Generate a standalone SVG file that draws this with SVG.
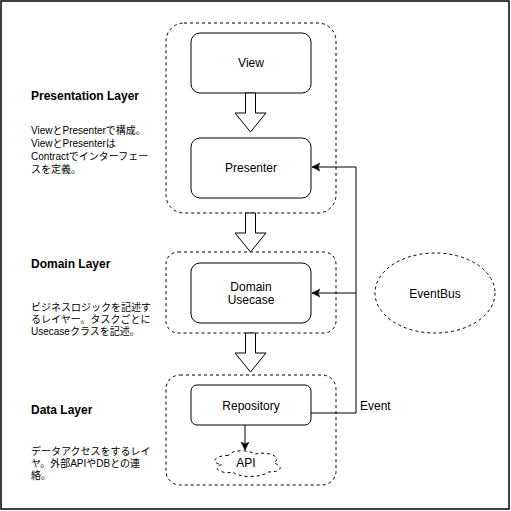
<svg xmlns="http://www.w3.org/2000/svg" width="511" height="511" viewBox="0 0 511 511">
<defs>
<style>
.frame{fill:#fff;stroke:#000;stroke-width:1.5}
.cont{fill:none;stroke:#000;stroke-width:1;stroke-dasharray:3 3}
.node{fill:#fff;stroke:#000;stroke-width:1}
.blk{fill:#fff;stroke:#000;stroke-width:1}
.lbl{font-family:"Liberation Sans",Arial,sans-serif;font-size:12px;fill:#000;text-anchor:middle}
.ttl{font-family:"Liberation Sans",Arial,sans-serif;font-size:12px;font-weight:bold;fill:#000}
.body{font-family:"Liberation Sans","Noto Sans CJK JP",sans-serif;font-size:10px;fill:#000}
.edge{fill:none;stroke:#000;stroke-width:1}
</style>
<marker id="arr" markerWidth="10" markerHeight="10" refX="8" refY="5" orient="auto" markerUnits="userSpaceOnUse">
<path d="M0,1 L8,5 L0,9 L2,5 Z" fill="#000" stroke="#000" stroke-width="0.5"/>
</marker>
</defs>
<rect class="frame" x="1" y="1" width="508" height="508"/>

<g id="presentation-layer">
<rect class="cont" x="166" y="23" width="170" height="190" rx="18"/>
</g>
<g id="domain-layer">
<rect class="cont" x="166" y="252" width="170" height="81" rx="12"/>
</g>
<g id="data-layer">
<rect class="cont" x="166" y="375" width="170" height="110" rx="14"/>
</g>

<g id="view">
<rect class="node" x="191" y="33" width="120" height="60" rx="9"/>
<text class="lbl" x="251" y="67">View</text>
</g>
<g id="presenter">
<rect class="node" x="191" y="138" width="120" height="60" rx="9"/>
<text class="lbl" x="251" y="172">Presenter</text>
</g>
<g id="domain-usecase">
<rect class="node" x="191" y="263" width="120" height="60" rx="9"/>
<text class="lbl" x="251" y="291">Domain</text>
<text class="lbl" x="251" y="304">Usecase</text>
</g>
<g id="repository">
<rect class="node" x="191" y="385" width="120" height="40" rx="6"/>
<text class="lbl" x="251" y="410">Repository</text>
</g>
<g id="api">
<path class="cont" d="M228.25,455.5 C213.65,455.5 210,463 221.68,464.5 C210,467.8 223.14,475 232.63,472 C239.2,478 261.1,478 268.4,472 C283,472 283,466 273.875,463 C283,457 268.4,451 255.6,454 C246.5,449.5 231.9,449.5 228.25,455.5 Z"/>
<text class="lbl" x="246" y="467">API</text>
</g>
<g id="eventbus">
<ellipse class="cont" cx="435" cy="293" rx="60" ry="40"/>
<text class="lbl" x="435" y="298">EventBus</text>
</g>

<g id="labels">
<text class="ttl" x="31" y="100">Presentation Layer</text>
<text class="body" x="31" y="134">ViewとPresenterで構成。</text>
<text class="body" x="31" y="147">ViewとPresenterは</text>
<text class="body" x="31" y="160">Contractでインターフェー</text>
<text class="body" x="31" y="173">スを定義。</text>
<text class="ttl" x="31" y="268">Domain Layer</text>
<text class="body" x="31" y="311">ビジネスロジックを記述す</text>
<text class="body" x="31" y="323">るレイヤー。タスクごとに</text>
<text class="body" x="31" y="335">Usecaseクラスを記述。</text>
<text class="ttl" x="31" y="414">Data Layer</text>
<text class="body" x="31" y="455">データアクセスをするレイ</text>
<text class="body" x="31" y="467">ヤ。外部APIやDBとの連</text>
<text class="body" x="31" y="479">絡。</text>
</g>

<g id="connectors">
<polygon class="blk" points="245.5,93 255.5,93 255.5,113 266,113 250.5,132 235,113 245.5,113"/>
<polygon class="blk" points="245.5,213 255.5,213 255.5,233 266,233 250.5,252 235,233 245.5,233"/>
<polygon class="blk" points="245.5,333 255.5,333 255.5,353 266,353 250.5,372 235,353 245.5,353"/>
<path class="edge" d="M311,413 L356,413 L356,167 L312,167" marker-end="url(#arr)"/>
<path class="edge" d="M356,293 L312,293" marker-end="url(#arr)"/>
<path class="edge" d="M245,425 L245,450" marker-end="url(#arr)"/>
<text class="lbl" x="360" y="410" style="text-anchor:start">Event</text>
</g>
</svg>
